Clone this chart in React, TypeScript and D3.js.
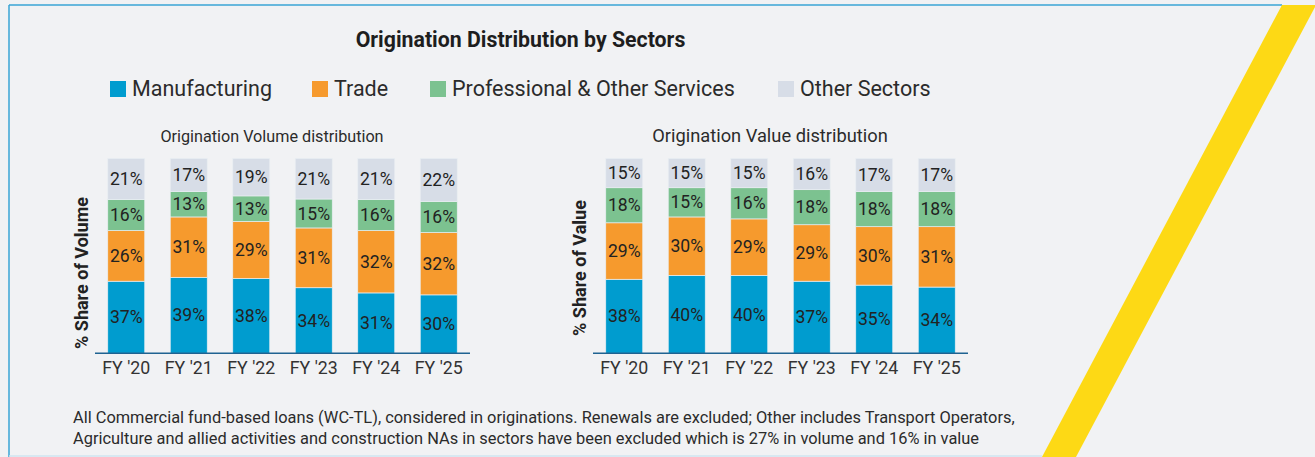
import React from "react";
import * as d3 from "d3";

// ---- data ----
const years = ["FY '20", "FY '21", "FY '22", "FY '23", "FY '24", "FY '25"];
const sectors = ["Manufacturing", "Trade", "Professional & Other Services", "Other Sectors"];

const volumeManufacturing = [37, 39, 38, 34, 31, 30];
const volumeTrade = [26, 31, 29, 31, 32, 32];
const volumeProfessional = [16, 13, 13, 15, 16, 16];
const volumeOther = [21, 17, 19, 21, 21, 22];

const valueManufacturing = [38, 40, 40, 37, 35, 34];
const valueTrade = [29, 30, 29, 29, 30, 31];
const valueProfessional = [18, 15, 16, 18, 18, 18];
const valueOther = [15, 15, 15, 16, 17, 17];

const colors: Record<string, string> = {
  "Manufacturing": "#009ccf",
  "Trade": "#f69a2d",
  "Professional & Other Services": "#7cc290",
  "Other Sectors": "#d7dde7",
};

const W = 1315;
const H = 457;
const FONT = "Roboto, 'Noto Sans', sans-serif";

// legend item start positions (layout)
const legendX = [110, 312, 430, 778];

function buildRows(m: number[], t: number[], p: number[], o: number[]) {
  return years.map((year, i) => ({
    year,
    "Manufacturing": m[i],
    "Trade": t[i],
    "Professional & Other Services": p[i],
    "Other Sectors": o[i],
  }));
}

type ChartProps = {
  rows: any[];
  x0: number;
  x1: number;
  subtitle: string;
  subtitleSize: number;
  yTitle: string;
  yTitleCenter: number;
};

function StackedChart({ rows, x0, x1, subtitle, subtitleSize, yTitle, yTitleCenter }: ChartProps) {
  const top = 158.5;
  const bottom = 353.3;

  const x = d3.scaleBand().domain(years).range([x0, x1]).paddingInner(0.408).paddingOuter(0.204);
  const y = d3.scaleLinear().domain([0, 1]).range([bottom, top]);

  // 100% stacked
  const stack = d3.stack<any>().keys(sectors).offset(d3.stackOffsetExpand);
  const layers = stack(rows);

  return (
    <g>
      <text
        x={(x0 + x1) / 2 - 10.5}
        y={141.5}
        textAnchor="middle"
        fontSize={subtitleSize}
        fill="#2b2b2b"
        fontFamily={FONT}
      >
        {subtitle}
      </text>

      {layers.map((layer) => (
        <g key={layer.key}>
          {layer.map((d: any, i: number) => {
            const yTop = y(d[1]);
            const yBot = y(d[0]);
            return (
              <g key={i}>
                <rect
                  x={x(d.data.year)}
                  y={yTop}
                  width={x.bandwidth()}
                  height={yBot - yTop}
                  fill={colors[layer.key]}
                  stroke="#e9eef2"
                  strokeWidth={0.7}
                />
                <text
                  x={(x(d.data.year) as number) + x.bandwidth() / 2}
                  y={(yTop + yBot) / 2}
                  dy="0.35em"
                  textAnchor="middle"
                  fontSize={17.6}
                  fill="#222"
                  fontFamily={FONT}
                >
                  {d.data[layer.key] + "%"}
                </text>
              </g>
            );
          })}
        </g>
      ))}

      <line x1={x0} x2={x1} y1={bottom} y2={bottom} stroke="#1f6391" strokeWidth={1.5} />

      {years.map((yr) => (
        <text
          key={yr}
          x={(x(yr) as number) + x.bandwidth() / 2}
          y={374}
          textAnchor="middle"
          fontSize={17.8}
          fill="#333"
          fontFamily={FONT}
        >
          {yr}
        </text>
      ))}

      <text
        transform={`translate(${x0 - 7},${yTitleCenter}) rotate(-90)`}
        textAnchor="middle"
        fontSize={18}
        fontWeight="bold"
        fill="#222"
        fontFamily={FONT}
      >
        {yTitle}
      </text>
    </g>
  );
}

export default function App() {
  const volumeRows = buildRows(volumeManufacturing, volumeTrade, volumeProfessional, volumeOther);
  const valueRows = buildRows(valueManufacturing, valueTrade, valueProfessional, valueOther);

  return (
    <svg
      width={W}
      height={H}
      style={{ position: "absolute", left: 0, top: 0, display: "block" }}
      fontFamily={FONT}
    >
      <rect x={0} y={0} width={W} height={H} fill="#f1f2f4" />

      {/* frame */}
      <line x1={9} x2={1282} y1={5} y2={5} stroke="#38a5d6" strokeWidth={1.5} />
      <line x1={9} x2={9} y1={5} y2={H} stroke="#38a5d6" strokeWidth={1.5} />
      <line x1={9} x2={1042} y1={456} y2={456} stroke="#cfe5f1" strokeWidth={1.5} />

      {/* yellow stripe */}
      <polygon points="1282,5 1316,5 1076,457 1042,457" fill="#fdd915" />

      <text x={520.5} y={46.5} textAnchor="middle" fontSize={21.3} fontWeight="bold" fill="#1e1e1e">
        Origination Distribution by Sectors
      </text>

      {sectors.map((s, i) => (
        <g key={s} transform={`translate(${legendX[i]},81)`}>
          <rect width={16} height={16} fill={colors[s]} />
          <text x={22} y={15} fontSize={21.5} fill="#2b2b2b">
            {s}
          </text>
        </g>
      ))}

      <StackedChart
        rows={volumeRows}
        x0={95}
        x1={470}
        subtitle="Origination Volume distribution"
        subtitleSize={16.2}
        yTitle="% Share of Volume"
        yTitleCenter={273}
      />
      <StackedChart
        rows={valueRows}
        x0={593}
        x1={968}
        subtitle="Origination Value distribution"
        subtitleSize={18.3}
        yTitle="% Share of Value"
        yTitleCenter={268}
      />

      <text x={73} y={423} fontSize={16.4} fill="#2b2b2b">
        All Commercial fund-based loans (WC-TL), considered in originations. Renewals are excluded; Other includes Transport Operators,
      </text>
      <text x={73} y={444} fontSize={16.4} fill="#2b2b2b">
        Agriculture and allied activities and construction NAs in sectors have been excluded which is 27% in volume and 16% in value
      </text>
    </svg>
  );
}
